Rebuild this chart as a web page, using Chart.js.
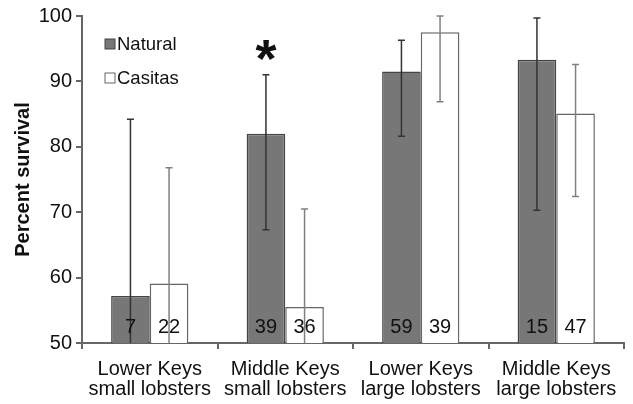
<!DOCTYPE html>
<html lang="en">
<head>
  <meta charset="UTF-8">
  <title>Percent survival</title>
  <script src="https://cdn.jsdelivr.net/npm/chart.js"></script>
  <style>
    body { margin: 0; padding: 0; background: white; }
    #wrap { width: 633px; height: 404px; }
  </style>
</head>
<body>
  <div id="wrap"><canvas id="grafico" width="633" height="404"></canvas></div>

  <script>
    const grupos = [
      ['Lower Keys', 'small lobsters'],
      ['Middle Keys', 'small lobsters'],
      ['Lower Keys', 'large lobsters'],
      ['Middle Keys', 'large lobsters']
    ];
    const natural = [57.2, 82.0, 91.5, 93.3];
    const naturalLow = [45, 67.3, 81.6, 70.3];
    const naturalHigh = [84.2, 91.0, 96.3, 99.7];
    const naturalN = [7, 39, 59, 15];

    const casitas = [59.1, 55.5, 97.5, 85.1];
    const casitasLow = [45, 45, 86.9, 72.4];
    const casitasHigh = [76.8, 70.5, 100, 92.6];
    const casitasN = [22, 36, 39, 47];

    const yTicks = [50, 60, 70, 80, 90, 100];
    const asterisco = { grupo: 1, serie: 0, valor: 95.3 };

    const fonte = 'Arial, "Liberation Sans", sans-serif';

    // error bars, counts, asterisk and legend
    const extras = {
      id: 'extras',
      afterDatasetsDraw(chart) {
        const ctx = chart.ctx;
        const y = chart.scales.y;
        const area = chart.chartArea;
        const erros = [[naturalLow, naturalHigh, '#333'], [casitasLow, casitasHigh, '#808080']];
        const contagens = [naturalN, casitasN];

        ctx.save();
        ctx.beginPath();
        ctx.rect(area.left, area.top - 2, area.right - area.left, area.bottom - area.top + 2);
        ctx.clip();
        erros.forEach(([lo, hi, cor], di) => {
          chart.getDatasetMeta(di).data.forEach((bar, i) => {
            const yl = y.getPixelForValue(lo[i]);
            const yh = y.getPixelForValue(hi[i]);
            ctx.strokeStyle = cor;
            ctx.lineWidth = 1.5;
            ctx.beginPath();
            ctx.moveTo(bar.x, yl); ctx.lineTo(bar.x, yh);
            ctx.moveTo(bar.x - 3.5, yh); ctx.lineTo(bar.x + 3.5, yh);
            if (lo[i] > 50) { ctx.moveTo(bar.x - 3.5, yl); ctx.lineTo(bar.x + 3.5, yl); }
            ctx.stroke();
          });
        });
        ctx.restore();

        ctx.save();
        ctx.fillStyle = '#111';
        ctx.font = '20px ' + fonte;
        ctx.textAlign = 'center';
        ctx.textBaseline = 'alphabetic';
        contagens.forEach((vals, di) => {
          chart.getDatasetMeta(di).data.forEach((bar, i) => {
            ctx.fillText(String(vals[i]), bar.x, area.bottom - 10);
          });
        });

        const b = chart.getDatasetMeta(asterisco.serie).data[asterisco.grupo];
        ctx.font = 'bold 54px ' + fonte;
        ctx.textBaseline = 'middle';
        ctx.fillText('*', b.x, y.getPixelForValue(asterisco.valor) + 15);

        // legend
        ctx.font = '18.5px ' + fonte;
        ctx.textAlign = 'left';
        chart.data.datasets.forEach((ds, di) => {
          const ly = area.top + 28 + di * 34;
          const lx = area.left + 23;
          ctx.fillStyle = ds.backgroundColor;
          ctx.strokeStyle = ds.borderColor;
          ctx.lineWidth = 1;
          ctx.fillRect(lx, ly - 5, 10, 10);
          ctx.strokeRect(lx, ly - 5, 10, 10);
          ctx.fillStyle = '#111';
          ctx.fillText(ds.label, lx + 12, ly + 1);
        });
        ctx.restore();
      }
    };

    new Chart(document.getElementById('grafico'), {
      type: 'bar',
      data: {
        labels: grupos,
        datasets: [
          {
            label: 'Natural',
            data: natural,
            backgroundColor: '#777777',
            borderColor: '#444444',
            borderWidth: 1.5,
            categoryPercentage: 0.57,
            barPercentage: 1.0
          },
          {
            label: 'Casitas',
            data: casitas,
            backgroundColor: '#ffffff',
            borderColor: '#666666',
            borderWidth: 1.5,
            categoryPercentage: 0.57,
            barPercentage: 1.0
          }
        ]
      },
      options: {
        responsive: false,
        animation: false,
        layout: { padding: { top: 15, right: 9, left: 0, bottom: 0 } },
        plugins: { legend: { display: false }, tooltip: { enabled: false } },
        scales: {
          x: {
            grid: { display: true, drawOnChartArea: false, drawTicks: true, tickLength: 6, color: '#666', lineWidth: 2, offset: true },
            border: { color: '#666', width: 2 },
            ticks: { color: '#111', font: { size: 20, family: fonte, lineHeight: 1.0 }, padding: 10, maxRotation: 0 },
            afterFit(s) { s.height = 61; }
          },
          y: {
            min: 50,
            max: 100,
            afterBuildTicks(s) { s.ticks = yTicks.map(v => ({ value: v })); },
            grid: { display: true, drawOnChartArea: false, drawTicks: true, tickLength: 6, color: '#666', lineWidth: 2 },
            border: { color: '#666', width: 2 },
            ticks: { color: '#111', font: { size: 20, family: fonte }, padding: 4 },
            title: { display: true, text: 'Percent survival', color: '#111', font: { size: 20, weight: 'bold', family: fonte }, padding: { top: 11, bottom: 0 } },
            afterFit(s) { s.width = 82; }
          }
        }
      },
      plugins: [extras]
    });
  </script>
</body>
</html>
